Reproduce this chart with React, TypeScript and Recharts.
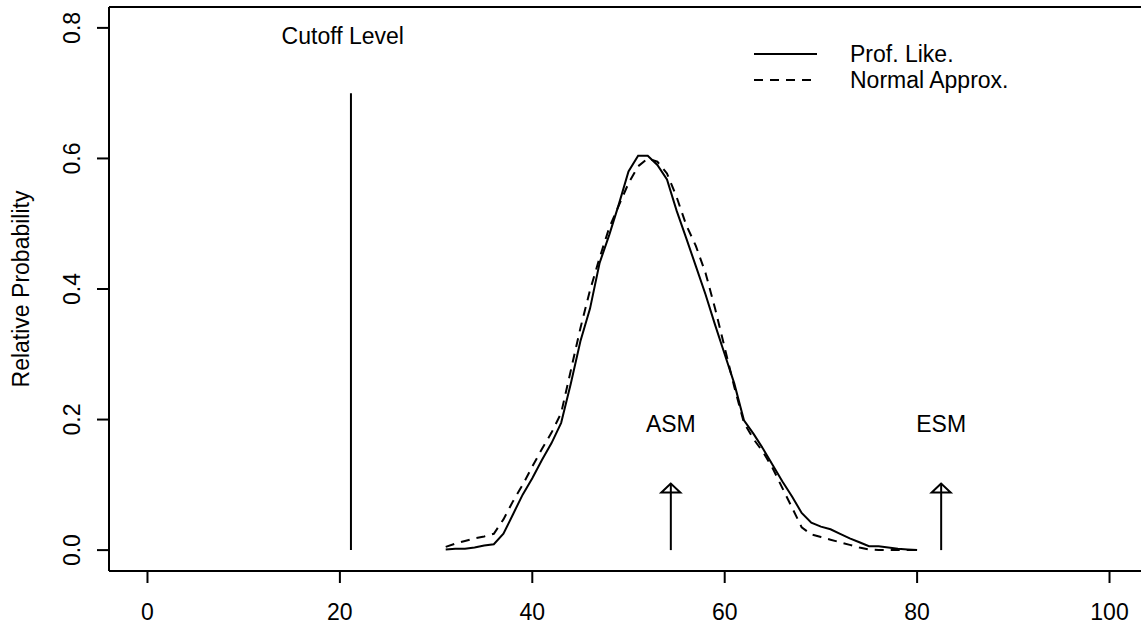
import React from 'react'
import { LineChart, Line, XAxis, YAxis, ReferenceLine, ReferenceDot, Legend } from 'recharts'

// grid of x values and the two curves
const xs = [
  31, 32, 33, 34, 35, 36, 37, 38, 39, 40, 41, 42, 43, 44, 45, 46, 47, 48, 49, 50,
  51, 52, 53, 54, 55, 56, 57, 58, 59, 60, 61, 62, 63, 64, 65, 66, 67, 68, 69, 70,
  71, 72, 73, 74, 75, 76, 77, 78, 79, 80,
]
const profLike = [
  0.001, 0.002, 0.002, 0.004, 0.007, 0.009, 0.025, 0.055, 0.085, 0.11,
  0.138, 0.164, 0.195, 0.255, 0.32, 0.37, 0.44, 0.483, 0.53, 0.58,
  0.604, 0.604, 0.59, 0.568, 0.52, 0.478, 0.435, 0.392, 0.345, 0.3,
  0.255, 0.199, 0.178, 0.155, 0.13, 0.105, 0.082, 0.057, 0.042, 0.036,
  0.032, 0.025, 0.018, 0.012, 0.006, 0.006, 0.004, 0.002, 0.001, 0.0,
]
const normalApprox = [
  0.005, 0.01, 0.014, 0.018, 0.021, 0.025, 0.047, 0.075, 0.1, 0.128,
  0.155, 0.18, 0.21, 0.275, 0.34, 0.398, 0.448, 0.494, 0.528, 0.562,
  0.588, 0.6, 0.595, 0.577, 0.541, 0.498, 0.466, 0.425, 0.37, 0.31,
  0.25, 0.195, 0.17, 0.15, 0.125, 0.095, 0.065, 0.035, 0.024, 0.02,
  0.016, 0.012, 0.008, 0.004, 0.001, 0.0, 0.0, 0.0, 0.0, 0.0,
]
const xTicks = [0, 20, 40, 60, 80, 100]
const yTicks = [0, 0.2, 0.4, 0.6, 0.8]

// annotations
const cutoffX = 21.15
const cutoffTop = 0.7
const cutoffLabel = { x: 20.3, y: 0.787, text: 'Cutoff Level' }
const arrows = [
  { name: 'ASM', x: 54.4, top: 0.102, labelY: 0.193 },
  { name: 'ESM', x: 82.5, top: 0.102, labelY: 0.193 },
]

const FONT = '"Liberation Sans", Arial, sans-serif'
const FS = 23

const data = xs.map((x, i) => ({ x, pl: profLike[i], na: normalApprox[i] }))

const YTick = (props: any) => {
  const { x, y, payload } = props
  return (
    <text x={x} y={y} transform={`rotate(-90, ${x}, ${y})`} textAnchor="middle" fontSize={FS} fontFamily={FONT} fill="#000">
      {payload.value.toFixed(1)}
    </text>
  )
}

const YLabel = (props: any) => {
  const vb = props.viewBox || { x: 0, y: 7, width: 109, height: 564 }
  const cx = 29
  const cy = vb.y + vb.height / 2
  return (
    <text x={cx} y={cy} transform={`rotate(-90, ${cx}, ${cy})`} textAnchor="middle" fontSize={FS} fontFamily={FONT} fill="#000">
      Relative Probability
    </text>
  )
}

const textShape = (label: string) => (props: any) => (
  <text x={props.cx} y={props.cy} dy="0.35em" textAnchor="middle" fontSize={FS} fontFamily={FONT} fill="#000">
    {label}
  </text>
)

const arrowHead = (props: any) => {
  const { cx, cy } = props
  return (
    <polygon
      points={`${cx},${cy} ${cx - 9.5},${cy + 9} ${cx + 9.5},${cy + 9}`}
      fill="none"
      stroke="#000"
      strokeWidth={2}
      strokeLinejoin="miter"
    />
  )
}

const LegendBox = () => (
  <svg width={320} height={56} style={{ display: 'block' }}>
    <line x1={4} x2={67} y1={14} y2={14} stroke="#000" strokeWidth={2} />
    <text x={100} y={22} fontSize={FS} fontFamily={FONT} fill="#000">Prof. Like.</text>
    <line x1={4} x2={67} y1={40} y2={40} stroke="#000" strokeWidth={2} strokeDasharray="9 7" />
    <text x={100} y={48} fontSize={FS} fontFamily={FONT} fill="#000">Normal Approx.</text>
  </svg>
)

export default function App() {
  return (
    <div style={{ position: 'absolute', left: 0, top: 0, width: 1141, height: 629, overflow: 'hidden', background: '#fff', fontFamily: FONT }}>
      <LineChart width={1148} height={629} data={data} margin={{ top: 7, right: 0, bottom: 0, left: 0 }}>
        <XAxis
          type="number"
          dataKey="x"
          domain={[-4, 104]}
          ticks={xTicks}
          allowDataOverflow
          height={58}
          tickSize={12}
          tickMargin={21}
          axisLine={{ stroke: '#000', strokeWidth: 2 }}
          tickLine={{ stroke: '#000', strokeWidth: 2 }}
          tick={{ fill: '#000', fontSize: FS, fontFamily: FONT }}
        />
        <YAxis
          type="number"
          domain={[-0.032, 0.832]}
          ticks={yTicks}
          allowDataOverflow
          width={109}
          tickSize={12}
          tickMargin={17}
          axisLine={{ stroke: '#000', strokeWidth: 2 }}
          tickLine={{ stroke: '#000', strokeWidth: 2 }}
          tick={<YTick />}
          label={{ content: (p: any) => <YLabel {...p} /> }}
        />
        <ReferenceLine y={0.832} stroke="#000" strokeWidth={2} />
        <ReferenceLine
          segment={[{ x: cutoffX, y: 0 }, { x: cutoffX, y: cutoffTop }]}
          stroke="#000"
          strokeWidth={2}
        />
        {arrows.map((a) => (
          <ReferenceLine
            key={a.name + '-shaft'}
            segment={[{ x: a.x, y: 0 }, { x: a.x, y: a.top }]}
            stroke="#000"
            strokeWidth={2}
          />
        ))}
        {arrows.map((a) => (
          <ReferenceDot key={a.name + '-head'} x={a.x} y={a.top} r={1} shape={arrowHead} />
        ))}
        {arrows.map((a) => (
          <ReferenceDot key={a.name + '-label'} x={a.x} y={a.labelY} r={1} shape={textShape(a.name)} />
        ))}
        <ReferenceDot x={cutoffLabel.x} y={cutoffLabel.y} r={1} shape={textShape(cutoffLabel.text)} />
        <Line type="linear" dataKey="pl" name="Prof. Like." stroke="#000" strokeWidth={2} dot={false} isAnimationActive={false} />
        <Line type="linear" dataKey="na" name="Normal Approx." stroke="#000" strokeWidth={2} strokeDasharray="9 7" dot={false} isAnimationActive={false} />
        <Legend
          layout="horizontal"
          verticalAlign="middle"
          align="center"
          content={() => <LegendBox />}
          wrapperStyle={{ position: 'absolute', left: 750, top: 40, width: 320, height: 56 }}
        />
      </LineChart>
    </div>
  )
}
